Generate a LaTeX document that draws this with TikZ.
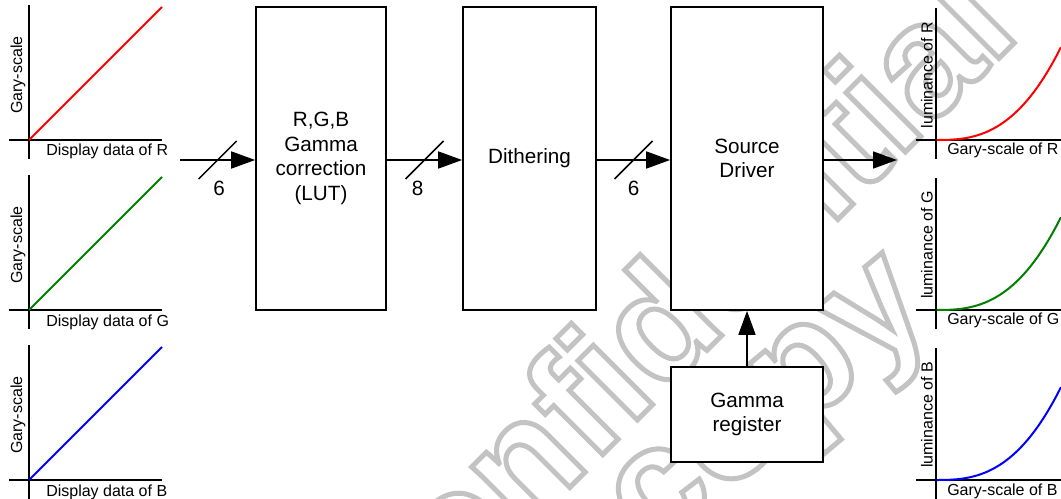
\documentclass[tikz,border=0pt]{standalone}
\usepackage{fontspec}
\setmainfont{Liberation Sans}
\usetikzlibrary{arrows.meta,calc}
\definecolor{wm}{RGB}{195,195,195}
\definecolor{cR}{RGB}{255,0,0}
\definecolor{cG}{RGB}{0,128,0}
\definecolor{cB}{RGB}{0,0,255}
\newcommand{\outlinetext}[1]{\special{pdf:literal direct 1 Tr 3.75 w}#1\special{pdf:literal direct 0 Tr}}
\tikzset{
  box/.style={draw, fill=white, line width=1.3pt, inner sep=0pt, align=center, font=\fontsize{15.5}{18.3}\selectfont},
  ax/.style={line width=1.5pt},
  flow/.style={line width=1.3pt, -{Triangle[length=18pt,width=12.75pt]}},
  slash/.style={line width=1.1pt},
  bus/.style={inner sep=0pt, font=\fontsize{15.5}{18}\selectfont},
  lab/.style={inner sep=0pt, font=\fontsize{12}{14}\selectfont},
  curve/.style={line width=1.5pt},
  wmark/.style={inner sep=0pt, font=\fontsize{119}{130}\selectfont\bfseries, text=wm},
}
\begin{document}
\begin{tikzpicture}[x=0.75pt,y=-0.75pt]
\useasboundingbox (0,0) rectangle (1061,499);
\clip (0,0) rectangle (1061,499);
\fill[white] (0,0) rectangle (1061,499);
% watermark
\node[wmark, rotate=45] (wm1) at (658,319) {\outlinetext{Confidential}};
\node[wmark, rotate=40] (wm2) at (778,415) {\outlinetext{copy}};
% blocks
\node[box, minimum width=97.5pt, minimum height=227.25pt] (lut) at (321,158.5) {R,G,B\\Gamma\\correction\\(LUT)};
\node[box, minimum width=99.75pt, minimum height=227.25pt] (dith) at (529.5,158.5) {Dithering};
\node[box, minimum width=114pt, minimum height=227.25pt] (src) at (747,158.5) {Source\\Driver};
\node[box, minimum width=114pt, minimum height=71.25pt] (greg) at (747,414.5) {Gamma\\register};
% connectors
\coordinate (yA) at (0,160);
\coordinate (inS) at (180,160);
\coordinate (a1) at (lut.west |- yA);
\coordinate (b1) at (lut.east |- yA);
\coordinate (a2) at (dith.west |- yA);
\coordinate (b2) at (dith.east |- yA);
\coordinate (a3) at (src.west |- yA);
\coordinate (b3) at (src.east |- yA);
\coordinate (outE) at (897,160);
\draw[flow] (inS) -- (a1);
\draw[flow] (b1) -- (a2);
\draw[flow] (b2) -- (a3);
\draw[flow] (b3) -- (outE);
\draw[flow] (greg.north) -- (src.south);
\coordinate (m1) at ($(inS)!0.5!(a1)$);
\coordinate (m2) at ($(b1)!0.5!(a2)$);
\coordinate (m3) at ($(b2)!0.5!(a3)$);
\foreach \m in {m1,m2,m3} {
  \draw[slash] ($(\m)+(-19,19)$) -- ($(\m)+(19,-19)$);
}
\node[bus] (n1) at ($(m1)+(1.5,28)$) {6};
\node[bus] (n2) at ($(m2)+(-7,28)$) {8};
\node[bus] (n3) at ($(m3)+(0,28)$) {6};
% input plots
\foreach \o/\c/\L in {0/cR/R,170/cG/G,340/cB/B} {
  \draw[ax] (29,5+\o) -- (29,159+\o);
  \draw[ax] (9,140+\o) -- (162,140+\o);
  \draw[curve, \c] (29,140+\o) -- (162,7+\o);
  \node[lab, rotate=90] (gs\L) at (18,75+\o) {Gary-scale};
  \node[lab, anchor=base west] (dd\L) at (46,156+\o) {Display data of \L};
}
% output plots
\foreach \o/\c/\L in {0/cR/R,170/cG/G,340/cB/B} {
  \draw[ax] (936,8+\o) -- (936,159+\o);
  \draw[ax] (916,140+\o) -- (1061,140+\o);
  \draw[curve, \c] plot[domain=0.005:1, samples=50] ({936+125*\x},{140+\o-93*(\x)^2.7});
  \node[lab, rotate=90] (lu\L) at (927,75+\o) {luminance of \L};
  \node[lab, anchor=base west] (gv\L) at (947,155+\o) {Gary-scale of \L};
}
\end{tikzpicture}
\end{document}
